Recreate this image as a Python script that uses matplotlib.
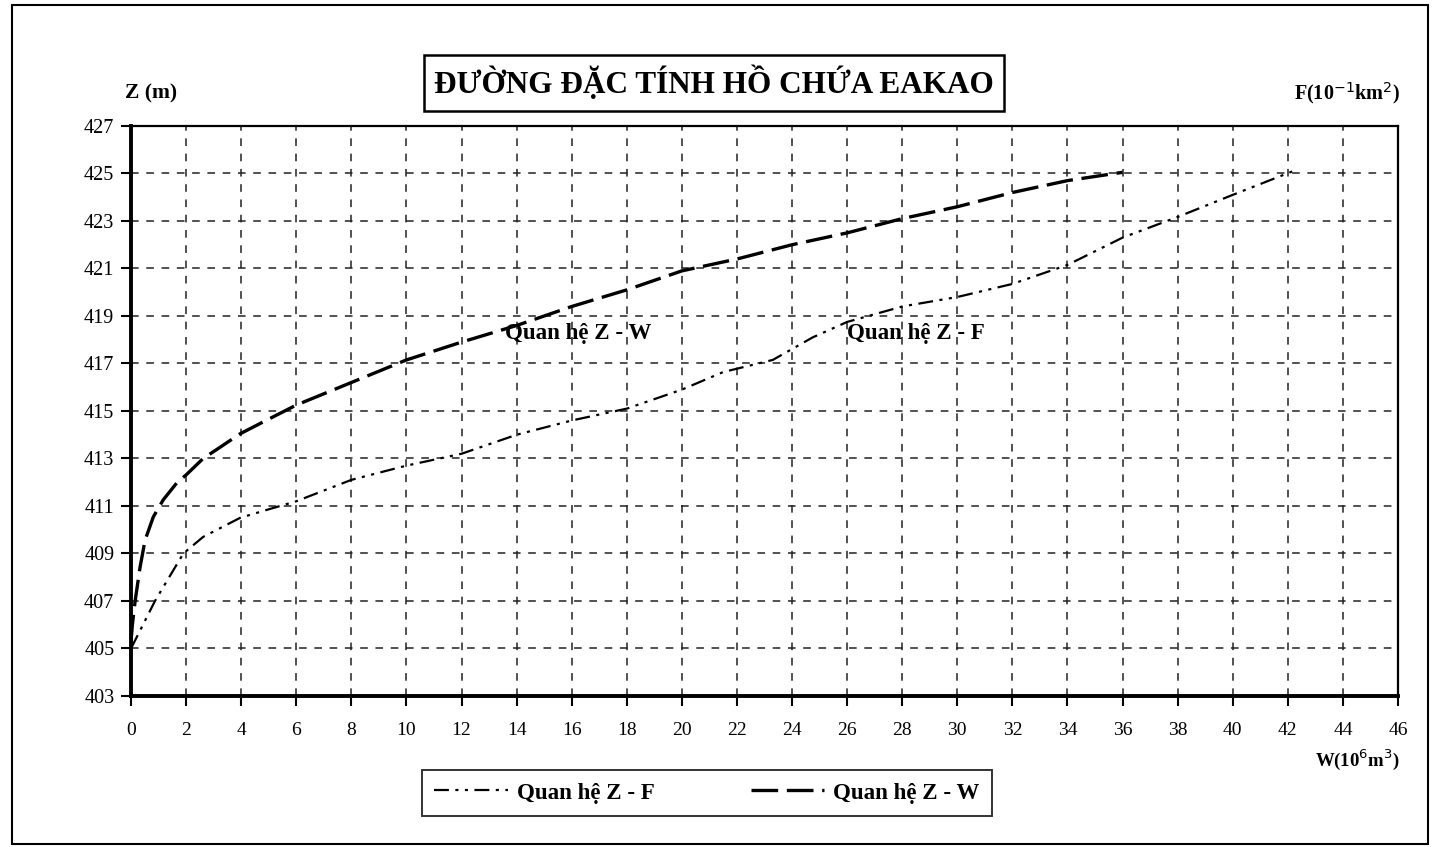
import matplotlib
matplotlib.use("Agg")
import matplotlib.pyplot as plt
from matplotlib.patches import Rectangle

plt.rcParams['font.family'] = ['Liberation Serif', 'DejaVu Serif']

# Data
w_vals = [0.0, 0.05, 0.15, 0.33, 0.51, 0.81, 1.17, 1.66, 2.02, 2.62, 3.23, 3.96, 4.8, 6, 8, 10, 12, 14, 16, 18, 20, 22, 24, 26, 28, 30, 32, 34, 36]
z_w    = [405.3, 406.0, 407.0, 408.43, 409.56, 410.54, 411.26, 411.97, 412.33, 413.0, 413.47, 414.04, 414.54, 415.25, 416.2, 417.15, 417.9, 418.6, 419.4, 420.1, 420.9, 421.4, 422.0, 422.5, 423.1, 423.6, 424.2, 424.7, 425.05]

f_vals = [0.0, 0.87, 1.9, 2.62, 3.96, 4.97, 6, 8, 10, 12, 14, 16, 18, 20, 21.5, 23.3, 24.75, 26, 28, 30, 32, 34, 36, 38, 40, 42.3]
z_f    = [405.0, 407.0, 409.0, 409.7, 410.5, 410.85, 411.2, 412.1, 412.7, 413.2, 414.0, 414.6, 415.1, 415.9, 416.64, 417.15, 418.1, 418.75, 419.4, 419.8, 420.35, 421.15, 422.3, 423.17, 424.1, 425.15]

x_ticks = list(range(0, 47, 2))
y_ticks = list(range(403, 428, 2))

title = "ĐƯỜNG ĐẶC TÍNH HỒ CHỨA EAKAO"
label_zf = "Quan hệ Z - F"
label_zw = "Quan hệ Z - W"

fig = plt.figure(figsize=(14.37, 8.47), dpi=100)
ax = fig.add_axes([131/1437, 1-696/847, (1398-131)/1437, (696-126)/847])

ax.set_xlim(0, 46)
ax.set_ylim(403, 427)
ax.set_xticks(x_ticks)
ax.set_yticks(y_ticks)
ax.set_xticklabels([str(t) for t in x_ticks])
ax.tick_params(axis='both', labelsize=14, direction='out', length=7, width=1.5, color='black')
ax.tick_params(axis='y', labelsize=14.5, pad=5)
ax.tick_params(axis='x', pad=12)

ax.grid(True, color='#222222', linewidth=1.1, linestyle=(0, (5, 5)))
for s in ['left', 'bottom']:
    ax.spines[s].set_linewidth(2.8)
for s in ['top', 'right']:
    ax.spines[s].set_linewidth(1.6)

l1, = ax.plot(f_vals, z_f, color='black', linewidth=1.6,
              linestyle=(0, (6.7, 2.9, 1.4, 2.9, 1.4, 2.9)), label=label_zf)
l2, = ax.plot(w_vals, z_w, color='black', linewidth=2.4,
              linestyle=(0, (8, 2.6)), label=label_zw)

ax.text(13.57, 418.25, label_zw, fontsize=16.5, fontweight='bold', va='center', ha='left')
ax.text(26.0, 418.25, label_zf, fontsize=16.5, fontweight='bold', va='center', ha='left')

# Axis labels
fig.text(125/1437, 1-93/847, "Z (m)", fontsize=15.5, fontweight='bold', va='center', ha='left')
fig.text(1400/1437, 1-93/847, "F(10$^{-1}$km$^{2}$)", fontsize=14.5, fontweight='bold', va='center', ha='right')
fig.text(1400/1437, 1-760/847, "W(10$^{6}$m$^{3}$)", fontsize=13.5, fontweight='bold', va='center', ha='right')

# Title
fig.text(714/1437, 1-83/847, title, fontsize=22.5, fontweight='bold', va='center', ha='center',
         bbox=dict(boxstyle='square,pad=0.33', facecolor='white', edgecolor='black', linewidth=1.8))

# Legend
leg = fig.legend(handles=[l1, l2], loc='center', bbox_to_anchor=(707/1437, 1-793/847),
                 ncol=2, fontsize=16.5, frameon=True, fancybox=False, edgecolor='black',
                 handlelength=3.2, columnspacing=4.2, borderpad=0.55, handletextpad=0.4,
                 borderaxespad=0)
leg.get_frame().set_linewidth(1.4)
for t in leg.get_texts():
    t.set_fontweight('bold')

# Outer border
fig.patches.append(Rectangle((12/1437, 0.004), (1428-12)/1437, 0.99, transform=fig.transFigure,
                             fill=False, edgecolor='black', linewidth=1.5))

fig.savefig("out.png", dpi=100)
